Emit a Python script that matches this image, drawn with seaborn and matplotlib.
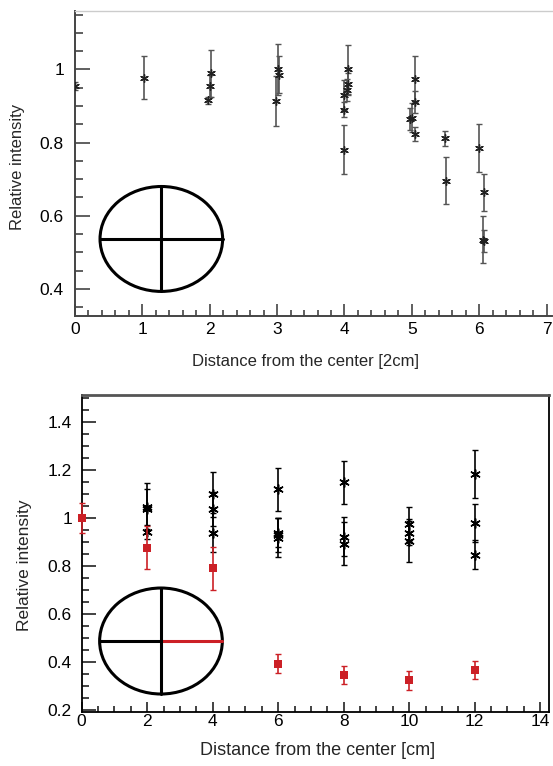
import matplotlib
matplotlib.use("Agg")
import matplotlib.pyplot as plt
from matplotlib.patches import Ellipse
from matplotlib.ticker import MultipleLocator, FuncFormatter
import numpy as np
import pandas as pd
import seaborn as sns

# top panel: distance in units of 2 cm
top_x = [0.0, 1.02, 1.98, 2.0, 2.02, 2.99, 3.02, 3.03, 3.99, 4.0, 4.0, 4.03, 4.05, 4.05,
         4.97, 5.0, 5.04, 5.05, 5.05, 5.49, 5.5, 6.0, 6.06, 6.07, 6.07]
top_y = [0.955, 0.978, 0.916, 0.955, 0.989, 0.913, 1.0, 0.986, 0.93, 0.89, 0.78, 0.945, 0.961, 1.0,
         0.865, 0.868, 0.912, 0.973, 0.824, 0.812, 0.696, 0.785, 0.535, 0.53, 0.664]
top_err = [0.01, 0.059, 0.01, 0.03, 0.064, 0.068, 0.07, 0.05, 0.04, 0.02, 0.067, 0.03, 0.03, 0.068,
           0.03, 0.04, 0.03, 0.063, 0.02, 0.02, 0.064, 0.065, 0.065, 0.03, 0.05]

# bottom panel: black series
bot_x = [2, 2, 2, 4, 4, 4, 6, 6, 6, 6, 8, 8, 8, 10, 10, 10, 12, 12, 12]
bot_y = [1.046, 1.036, 0.942, 1.097, 1.036, 0.938, 1.118, 0.938, 0.928, 0.918,
         1.147, 0.922, 0.893, 0.974, 0.938, 0.905, 1.182, 0.979, 0.847]
bot_err = [0.097, 0.082, 0.03, 0.093, 0.07, 0.08, 0.09, 0.06, 0.07, 0.08,
           0.09, 0.08, 0.09, 0.07, 0.05, 0.09, 0.1, 0.08, 0.06]

# bottom panel: red series
red_x = [0, 2, 4, 6, 8, 10, 12]
red_y = [1.0, 0.875, 0.79, 0.392, 0.346, 0.324, 0.366]
red_err = [0.063, 0.09, 0.09, 0.04, 0.036, 0.04, 0.036]

sns.set_style("ticks")
plt.rcParams['font.family'] = ['Liberation Sans', 'DejaVu Sans']

fig = plt.figure(figsize=(5.53, 7.66), dpi=100)
ax1 = fig.add_axes([0.1356, 0.5875, 0.8626, 0.3982])
ax2 = fig.add_axes([0.1477, 0.0709, 0.8445, 0.4134])

fmt = FuncFormatter(lambda v, p: f"{v:g}")
RED = "#cc2026"

##top panel
df_top = pd.DataFrame({"x": top_x, "y": top_y})
ax1.errorbar(top_x, top_y, yerr=top_err, fmt="none", ecolor="#555555", elinewidth=1.2,
             capsize=2, capthick=1)
sns.scatterplot(x="x", y="y", data=df_top, ax=ax1, marker=(6, 2, 0), s=30,
                color="#222222", linewidth=1.0, zorder=3)
ax1.set_xlim(0, 7.08)
ax1.set_ylim(0.326, 1.16)
ax1.xaxis.set_major_locator(MultipleLocator(1))
ax1.xaxis.set_minor_locator(MultipleLocator(0.2))
ax1.yaxis.set_major_locator(MultipleLocator(0.2))
ax1.yaxis.set_minor_locator(MultipleLocator(0.05))
ax1.yaxis.set_major_formatter(fmt)
ax1.tick_params(which="both", direction="in", colors="#444444", labelcolor="black", width=1.2)
ax1.tick_params(axis="y", which="major", length=11, labelsize=12.5, pad=8)
ax1.tick_params(axis="y", which="minor", length=5.5)
ax1.tick_params(axis="x", which="major", length=9, labelsize=12.5, pad=4)
ax1.tick_params(axis="x", which="minor", length=4.5)
for s in ["left", "bottom"]:
    ax1.spines[s].set_color("#444444")
    ax1.spines[s].set_linewidth(1.4)
ax1.spines["right"].set_visible(False)
ax1.spines["top"].set_color("#cccccc")
ax1.spines["top"].set_linewidth(1.0)
ax1.set_xlabel("Distance from the center [2cm]", fontsize=12)
ax1.set_ylabel("Relative intensity", fontsize=12)
ax1.xaxis.set_label_coords(0.484, -0.125)
ax1.yaxis.set_label_coords(-0.105, 0.49)

# circle sketch
ax1.add_patch(Ellipse((0.181, 0.2525), 0.257, 0.344, transform=ax1.transAxes,
                      fill=False, ec="black", lw=2.2))
ax1.plot([0.0525, 0.3095], [0.2525, 0.2525], color="black", lw=2.2, transform=ax1.transAxes)
ax1.plot([0.181, 0.181], [0.0805, 0.4245], color="black", lw=2.2, transform=ax1.transAxes)

##bottom panel
df_bot = pd.DataFrame({"x": bot_x, "y": bot_y})
df_red = pd.DataFrame({"x": red_x, "y": red_y})
ax2.errorbar(bot_x, bot_y, yerr=bot_err, fmt="none", ecolor="black", elinewidth=1.2,
             capsize=2, capthick=1)
ax2.errorbar(red_x, red_y, yerr=red_err, fmt="none", ecolor=RED, elinewidth=1.2,
             capsize=2, capthick=1, clip_on=False, zorder=4)
sns.scatterplot(x="x", y="y", data=df_bot, ax=ax2, marker=(6, 2, 0), s=45,
                color="black", linewidth=1.1, zorder=3)
sns.scatterplot(x="x", y="y", data=df_red, ax=ax2, marker="s", s=36,
                color=RED, edgecolor=RED, linewidth=0, zorder=5)
for coll in ax2.collections:
    coll.set_clip_on(False)
ax2.set_xlim(0, 14.26)
ax2.set_ylim(0.193, 1.511)
ax2.xaxis.set_major_locator(MultipleLocator(2))
ax2.xaxis.set_minor_locator(MultipleLocator(0.5))
ax2.yaxis.set_major_locator(MultipleLocator(0.2))
ax2.yaxis.set_minor_locator(MultipleLocator(0.05))
ax2.yaxis.set_major_formatter(fmt)
ax2.tick_params(which="both", direction="in", colors="#222222", labelcolor="black", width=1.2)
ax2.tick_params(axis="y", which="major", length=10, labelsize=12.5, pad=7)
ax2.tick_params(axis="y", which="minor", length=5)
ax2.tick_params(axis="x", which="major", length=7, labelsize=12.5, pad=2)
ax2.tick_params(axis="x", which="minor", length=4)
for s in ["left", "bottom", "right"]:
    ax2.spines[s].set_color("black")
    ax2.spines[s].set_linewidth(1.3)
ax2.spines["top"].set_color("#555555")
ax2.spines["top"].set_linewidth(2.0)
ax2.set_xlabel("Distance from the center [cm]", fontsize=13)
ax2.set_ylabel("Relative intensity", fontsize=12.5)
ax2.xaxis.set_label_coords(0.505, -0.095)
ax2.yaxis.set_label_coords(-0.106, 0.463)

# circle sketch with red radius
ax2.add_patch(Ellipse((0.1698, 0.2232), 0.2627, 0.3347, transform=ax2.transAxes,
                      fill=False, ec="black", lw=2.2))
ax2.plot([0.0385, 0.1698], [0.2232, 0.2232], color="black", lw=2.2, transform=ax2.transAxes)
ax2.plot([0.1698, 0.3011], [0.2232, 0.2232], color=RED, lw=2.2, transform=ax2.transAxes)
ax2.plot([0.1698, 0.1698], [0.0559, 0.3905], color="black", lw=2.2, transform=ax2.transAxes)

fig.savefig("out.png", dpi=100)
